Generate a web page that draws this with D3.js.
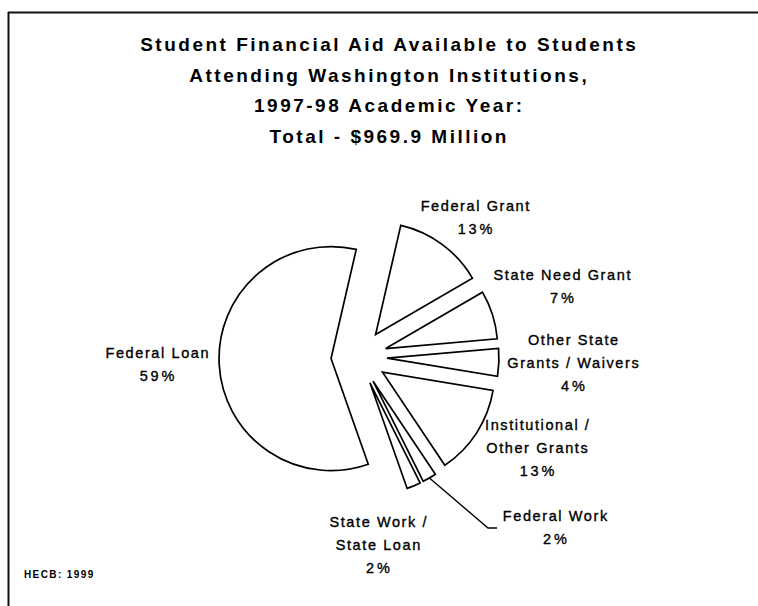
<!DOCTYPE html>
<html>
<head>
<meta charset="utf-8">
<script src="https://cdn.jsdelivr.net/npm/d3@7"></script>
<style>
  html, body { margin: 0; padding: 0; background: #fff; }
  svg { display: block; }
  text { font-family: "Liberation Sans", Arial, Helvetica, sans-serif; fill: #000; }
</style>
</head>
<body>
<svg id="chart" width="758" height="606"></svg>
<script>
// Student financial aid, Washington institutions, 1997-98 (percent of $969.9M)
const categories = [
  "Federal Grant",
  "State Need Grant",
  "Other State Grants / Waivers",
  "Institutional / Other Grants",
  "Federal Work",
  "State Work / State Loan",
  "Federal Loan"
];
const shares = [13, 7, 4, 13, 2, 2, 59];
const labelLines = [
  ["Federal Grant"],
  ["State Need Grant"],
  ["Other State", "Grants / Waivers"],
  ["Institutional /", "Other Grants"],
  ["Federal Work"],
  ["State Work /", "State Loan"],
  ["Federal Loan"]
];
const titleLines = [
  "Student Financial Aid Available to Students",
  "Attending Washington Institutions,",
  "1997-98 Academic Year:",
  "Total - $969.9 Million"
];
const sourceNote = "HECB: 1999";

// layout
const W = 758, H = 606;
const cx = 359, cy = 357, R = 112, explode = 28;
const startDeg = 13;
// label anchor (centre x, first baseline y) for each slice
const labelPos = [[475, 211], [562, 280], [573, 345], [537, 430], [555, 521], [378, 527], [157, 358]];
const labelLineHeight = 23.2;
// elbow of the leader line drawn for the Federal Work slice
const leaderIndex = 4;
const leaderElbow = [488, 528], leaderEnd = [497, 528];

const svg = d3.select("#chart");

// frame (left and top edges)
svg.append("line").attr("x1", 8.5).attr("y1", 12).attr("x2", 8.5).attr("y2", H)
  .attr("stroke", "#111").attr("stroke-width", 2);
svg.append("line").attr("x1", 8).attr("y1", 12.5).attr("x2", W).attr("y2", 12.5)
  .attr("stroke", "#111").attr("stroke-width", 2);

// title
const titleLS = 2.5;
svg.append("g").selectAll("text").data(titleLines).join("text")
  .attr("x", 388 + titleLS / 2)
  .attr("y", (d, i) => 51 + i * 30.7)
  .attr("text-anchor", "middle")
  .style("font-size", "19px")
  .style("font-weight", "bold")
  .style("letter-spacing", titleLS + "px")
  .text(d => d);

// pie
const pie = d3.pie().sort(null).value(d => d)
  .startAngle(startDeg * Math.PI / 180)
  .endAngle(startDeg * Math.PI / 180 + 2 * Math.PI);
const arc = d3.arc().innerRadius(0).outerRadius(R);
const slices = pie(shares);

const g = svg.append("g").attr("transform", `translate(${cx},${cy})`);
g.selectAll("path").data(slices).join("path")
  .attr("transform", d => {
    const m = (d.startAngle + d.endAngle) / 2;
    return `translate(${explode * Math.sin(m)},${-explode * Math.cos(m)})`;
  })
  .attr("d", arc)
  .attr("fill", "#fff")
  .attr("stroke", "#000")
  .attr("stroke-width", 1.7)
  .attr("stroke-linejoin", "miter");

// leader line from the Federal Work slice edge to its label
{
  const d = slices[leaderIndex];
  const m = (d.startAngle + d.endAngle) / 2;
  const r = explode + R;
  const p0 = [cx + r * Math.sin(m), cy - r * Math.cos(m)];
  svg.append("path")
    .attr("d", d3.line()([p0, leaderElbow, leaderEnd]))
    .attr("fill", "none").attr("stroke", "#000").attr("stroke-width", 1.4);
}

// slice labels: name lines then the percentage
const labelLS = 1.6;
const lg = svg.append("g");
slices.forEach((d, i) => {
  const lines = labelLines[i].concat([`${shares[i]}%`]);
  const [lx, ly] = labelPos[i];
  lines.forEach((t, j) => {
    const ls = j === lines.length - 1 ? 2.8 : labelLS;
    lg.append("text")
      .attr("x", lx + ls / 2)
      .attr("y", ly + j * labelLineHeight)
      .attr("text-anchor", "middle")
      .style("font-size", "14.5px")
      .style("letter-spacing", ls + "px")
      .style("stroke", "#000").style("stroke-width", 0.35)
      .text(t);
  });
});

// source note
svg.append("text")
  .attr("x", 24).attr("y", 578)
  .style("font-size", "10px")
  .style("font-weight", "bold")
  .style("letter-spacing", "1.4px")
  .text(sourceNote);
</script>
</body>
</html>
